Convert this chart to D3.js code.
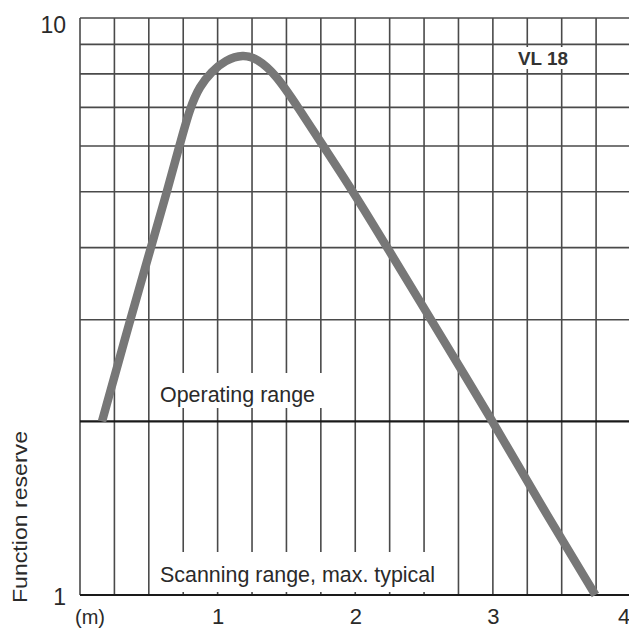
<!DOCTYPE html>
<html>
<head>
<meta charset="utf-8">
<script src="https://cdn.jsdelivr.net/npm/d3@7"></script>
<style>
  html, body { margin: 0; padding: 0; background: #fff; }
  svg { display: block; }
  text { font-family: "Liberation Sans", Arial, sans-serif; fill: #2a2a2a; }
</style>
</head>
<body>
<svg id="chart" width="629" height="631"></svg>
<script>
// ---- data ----
const distance = [0.16, 0.365, 0.515, 0.632, 0.722, 0.80, 0.87, 0.955, 1.055, 1.185, 1.29, 1.42, 1.585, 1.767, 1.985, 2.233, 2.55, 3.0, 3.32, 3.745];
const reserve  = [2.0, 3.0, 4.0, 5.0, 6.0, 7.0, 7.62, 8.07, 8.45, 8.65, 8.5, 8.0, 7.0, 6.0, 5.0, 4.0, 3.0, 2.0, 1.47, 1.0];
const xTickLabels = [1, 2, 3, 4];
const yTickLabels = [1, 10];
const yGridValues = [1, 2, 3, 4, 5, 6, 7, 8, 9, 10];
const xGridValues = [0, 0.25, 0.5, 0.75, 1, 1.25, 1.5, 1.75, 2, 2.25, 2.5, 2.75, 3, 3.25, 3.5, 3.75, 4];
const seriesName = "VL 18";
const operatingLabel = "Operating range";
const scanningLabel = "Scanning range, max. typical";
const yTitle = "Function reserve";
const xUnit = "(m)";

// ---- scales ----
const x = d3.scaleLinear().domain([0, 4]).range([80, 630.5]);
const y = d3.scaleLog().domain([1, 10]).range([595, 18]);

const svg = d3.select("#chart");

// ---- grid ----
const grid = svg.append("g");
grid.selectAll("line.v").data(xGridValues).enter().append("line")
  .attr("x1", d => x(d)).attr("x2", d => x(d))
  .attr("y1", y(10)).attr("y2", y(1))
  .attr("stroke", "#4a4a4a").attr("stroke-width", 1.6);
grid.selectAll("line.h").data(yGridValues).enter().append("line")
  .attr("x1", x(0)).attr("x2", 629)
  .attr("y1", d => y(d)).attr("y2", d => y(d))
  .attr("stroke", d => (d === 1 || d === 2) ? "#1a1a1a" : "#4a4a4a")
  .attr("stroke-width", d => (d === 1 || d === 2) ? 2.2 : 1.6);

// ---- white boxes behind in-plot labels ----
svg.append("rect").attr("x", 155).attr("y", 373).attr("width", 172).attr("height", 35).attr("fill", "#fff");
svg.append("rect").attr("x", 155).attr("y", 552).attr("width", 274).attr("height", 40).attr("fill", "#fff");
svg.append("rect").attr("x", 514).attr("y", 47).attr("width", 58).attr("height", 22).attr("fill", "#fff");

// ---- curve ----
const pts = distance.map((d, i) => [d, reserve[i]]);
const line = d3.line()
  .x(d => x(d[0])).y(d => y(d[1]))
  .curve(d3.curveBasis);
svg.append("path").datum(pts)
  .attr("d", line)
  .attr("fill", "none")
  .attr("stroke", "#777777")
  .attr("stroke-width", 8.5)
  .attr("stroke-linejoin", "round");

// ---- in-plot labels ----
svg.append("text").attr("x", 160).attr("y", 402)
  .attr("font-size", 21.5).attr("textLength", 155).attr("lengthAdjust", "spacingAndGlyphs")
  .text(operatingLabel);
svg.append("text").attr("x", 160).attr("y", 582)
  .attr("font-size", 21.5).attr("textLength", 275).attr("lengthAdjust", "spacingAndGlyphs")
  .text(scanningLabel);
svg.append("text").attr("x", 518).attr("y", 65)
  .attr("font-size", 18).attr("font-weight", "bold").attr("textLength", 50).attr("lengthAdjust", "spacingAndGlyphs")
  .style("fill", "#333")
  .text(seriesName);

// ---- x axis labels ----
const xAxis = d3.axisBottom(x).tickValues(xTickLabels).tickSize(0).tickPadding(0).tickFormat(d3.format("d"));
const gx = svg.append("g").attr("transform", "translate(0,608)").call(xAxis);
gx.select(".domain").remove();
gx.selectAll("text").attr("font-size", 22).attr("dy", "0.72em")
  .attr("dx", d => d === 4 ? -7 : 0)
  .attr("font-family", "Liberation Sans, Arial, sans-serif").style("fill", "#2a2a2a");
svg.append("text").attr("x", 90).attr("y", 624).attr("text-anchor", "middle")
  .attr("font-size", 20).text(xUnit);

// ---- y axis labels ----
const yAxis = d3.axisLeft(y).tickValues(yTickLabels).tickSize(0).tickPadding(14).tickFormat(d3.format("d"));
const gy = svg.append("g").attr("transform", "translate(80,0)").call(yAxis);
gy.select(".domain").remove();
gy.selectAll("text").attr("font-size", 23)
  .attr("font-family", "Liberation Sans, Arial, sans-serif").style("fill", "#2a2a2a")
  .attr("dy", d => d === 10 ? "0.62em" : "0.42em");

// ---- y title ----
svg.append("text")
  .attr("transform", "translate(27,603) rotate(-90)")
  .attr("font-size", 21).attr("textLength", 172).attr("lengthAdjust", "spacingAndGlyphs")
  .text(yTitle);
</script>
</body>
</html>
